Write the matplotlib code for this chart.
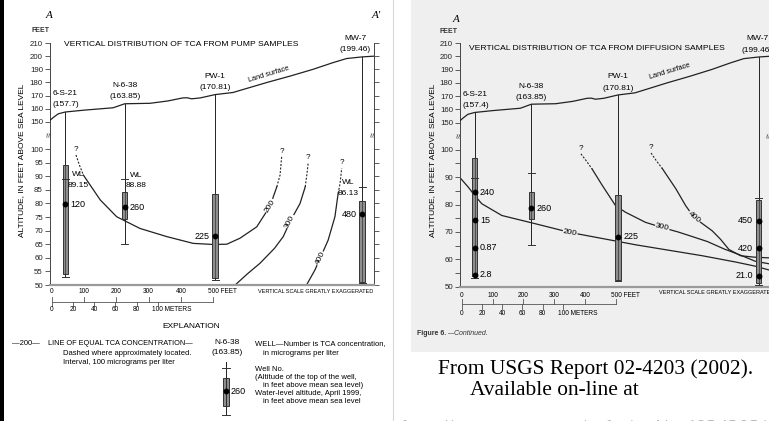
import numpy as np
import matplotlib.pyplot as plt
import matplotlib.transforms as mtransforms
from matplotlib.patches import Rectangle
from matplotlib.ticker import NullFormatter

plt.rcParams['font.family'] = ['Liberation Sans', 'DejaVu Sans']

W, H = 769, 421

# wells along section A-A' (distance from A in feet)
wells = ['6-S-21', 'N-6-38', 'PW-1', 'MW-7']
well_ft = [42, 226, 506, 961]
top_pump = [157.7, 163.85, 170.81, 199.46]
top_diff = [157.4, 163.85, 170.81, 199.46]

# land surface
land_ft = [-7, 5, 20, 42, 100, 190, 226, 304, 360, 406, 420, 433, 460, 506, 561, 666, 740, 809, 870, 913, 962, 998]
land_alt = [151, 153.5, 156.2, 157.6, 159, 160.8, 163.85, 164.2, 166, 168.3, 168.4, 167.6, 168.3, 170.81,
            172.4, 180, 185, 190, 195, 198.2, 199.46, 200]

# pump samples
pump_box_top = [94, 84.1, 83.3, 81]
pump_box_bot = [54, 74.2, 52.7, 51.2]
pump_bottom = [53, 65, 51.8, 50.6]
pump_wl = [89.15, 88.88, None, 86.13]
pump_sample_alt = [[79.7], [78.5], [68], [76]]
pump_tca = [['120'], ['260'], ['225'], ['480']]

# diffusion samples
diff_box_top = [96.9, 84.6, 83.5, 81.5]
diff_box_bot = [54, 74.6, 52.5, 51.3]
diff_bottom = [53.3, 65.3, 52, 50.8]
diff_wl = [89.6, 91.5, None, 82.4]
diff_sample_alt = [[84.4, 74.3, 64.2, 54.3], [78.7], [68.3], [74, 64, 54]]
diff_tca = [['240', '15', '0.87', '2.8'], ['260'], ['225'], ['450', '420', '21.0']]

# lines of equal TCA concentration (pump)
pump_200_ft = [75, 86, 98, 150, 201, 273, 356, 438, 500, 542, 583, 635, 676, 697, 707, 712]
pump_200_alt = [97.8, 94, 90.4, 81.3, 75.1, 70.8, 67.8, 65.3, 64.9, 65.0, 67.2, 71.4, 79.0, 86.1, 90.4, 97.2]
pump_300_ft = [568, 605, 645, 690, 717, 738, 769, 785, 790, 794]
pump_300_alt = [50, 54, 58, 63.5, 67.8, 73.3, 80, 86.1, 90.5, 94.7]
pump_400_ft = [789, 815, 831, 856, 877, 887, 893, 898]
pump_400_alt = [50, 55.5, 59.8, 66.5, 75.1, 83.7, 87.4, 92.9]

# lines of equal TCA concentration (diffusion)
diff_200_ft = [-7, 21, 43, 65, 130, 238, 351, 455, 507, 563, 671, 779, 887, 950, 998]
diff_200_alt = [90, 86.4, 83.2, 80.3, 76, 73, 69.8, 67.6, 66.5, 65.3, 63.3, 61.3, 59, 57.5, 56]
diff_300_ft = [386, 403, 422, 455, 498, 530, 595, 649, 700, 741, 795, 849, 903, 950, 998]
diff_300_alt = [98.5, 96, 93, 87, 79.6, 77.2, 73.5, 71.6, 70, 68.5, 66.5, 63.8, 61.5, 59.3, 58.3]
diff_400_ft = [613, 630, 649, 693, 725, 752, 777, 811, 838, 865, 903, 946, 998]
diff_400_alt = [98.8, 96, 93.2, 85.8, 79.6, 75.3, 73.2, 70.4, 67.3, 63.6, 61.3, 60.8, 60.5]

feet_ticks = [0, 100, 200, 300, 400, 500]
meter_ticks = [0, 20, 40, 60, 80, 100]

# broken vertical scale: 50-100 ft stretched, 150-210 ft compressed
alt_knots = [-1000, 50, 100, 150, 210, 1000]
px_knots = [-2856, 0, 136, 163, 242, 242 + 790 * 1.317]


def fwd(a):
    return np.interp(a, alt_knots, px_knots)


def inv(p):
    return np.interp(p, px_knots, alt_knots)


fig = plt.figure(figsize=(W / 100, H / 100), dpi=100)
ov = fig.add_axes([0, 0, 1, 1], zorder=0)
ov.set_xlim(0, W)
ov.set_ylim(H, 0)
ov.axis('off')

GRAY_BG = '#efefef'
ov.add_patch(Rectangle((411, 0), 358, 352, fc=GRAY_BG, ec='none'))
ov.add_patch(Rectangle((0, 0), 3.5, H, fc='black', ec='none'))
ov.plot([392.5, 392.5], [0, H], color='#d8d8d8', lw=0.8)


def setup_panel(ax, labelled, minor):
    ax.set_facecolor('none')
    ax.set_yscale('function', functions=(fwd, inv))
    ax.set_xlim(-7, 998)
    ax.set_ylim(50, 210)
    ax.set_xticks([])
    ax.set_yticks(labelled)
    ax.set_yticklabels([str(v) for v in labelled])
    ax.set_yticks(minor, minor=True)
    ax.yaxis.set_minor_formatter(NullFormatter())
    ax.spines['top'].set_visible(False)
    for s in ['left', 'right']:
        ax.spines[s].set_color('#444')
        ax.spines[s].set_linewidth(0.7)
    ax.spines['bottom'].set_color('#9a9a9a')
    ax.spines['bottom'].set_linewidth(1.6)
    ax.tick_params(axis='y', which='both', direction='out', length=3.5, width=0.6,
                   color='#444', labelcolor='#222', labelsize=5.7, pad=1.2, right=True)
    tr = mtransforms.blended_transform_factory(ax.transAxes, ax.transData)
    for xa in [0, 1]:
        ax.text(xa, 127, '≈', transform=tr, rotation=90, ha='center', va='center',
                fontsize=6.5, color='#333', clip_on=False)


def draw_contour(ax, xs, ys, lead, tail):
    n = len(xs)
    a = max(lead - 1, 0)
    b = n - tail + 1 if tail else n
    ax.plot(xs[a:b], ys[a:b], color='#222', lw=0.9, zorder=2)
    if lead:
        ax.plot(xs[:lead], ys[:lead], color='#222', lw=0.8, ls=(0, (1.8, 1.4)), zorder=2)
        ax.annotate('?', (xs[0], ys[0]), xytext=(0, 1.5), textcoords='offset points',
                    ha='center', va='bottom', fontsize=5.8)
    if tail:
        ax.plot(xs[n - tail:], ys[n - tail:], color='#222', lw=0.8, ls=(0, (1.8, 1.4)), zorder=2)
        ax.annotate('?', (xs[-1], ys[-1]), xytext=(0, 1.5), textcoords='offset points',
                    ha='center', va='bottom', fontsize=5.8)


def draw_well(ax, i, top, bottom, box_top, box_bot, wl, sample_alt, tca, side):
    x = well_ft[i]
    ax.plot([x, x], [top, bottom], color='#222', lw=0.7, zorder=3)
    ax.add_patch(Rectangle((x - 8.5, box_bot), 17, box_top - box_bot, fc='#8e8e8e',
                           ec='#333', lw=0.7, zorder=4))
    ax.plot([x, x], [box_bot, box_top], color='#333', lw=0.5, zorder=5)
    for c in [bottom, wl]:
        if c is not None:
            ax.plot([x - 11, x + 11], [c, c], color='#333', lw=0.7, zorder=5)
    for a, t in zip(sample_alt, tca):
        ax.plot(x, a, 'o', ms=3.2, color='black', zorder=6)
        ax.annotate(t, (x, a), xytext=(side * 3.8, 0), textcoords='offset points',
                    ha='left' if side > 0 else 'right', va='center', fontsize=6.5, zorder=7)


def well_names(ax, tops, dx_list, ha_list):
    for i, name in enumerate(wells):
        ax.annotate(name, (well_ft[i], tops[i]), xytext=(dx_list[i], 13),
                    textcoords='offset points', ha=ha_list[i], va='center', fontsize=6)
        ax.annotate('(%s)' % tops[i], (well_ft[i], tops[i]), xytext=(dx_list[i], 5),
                    textcoords='offset points', ha=ha_list[i], va='center', fontsize=6)


def scale_bar(ax, h_px, lab_dy, bar_dy, mlab_dy):
    tr = mtransforms.blended_transform_factory(ax.transData, ax.transAxes)

    def f(d):
        return -d / h_px
    kw = dict(transform=tr, clip_on=False, color='#555', lw=0.6)
    ax.plot([0, 500], [f(bar_dy), f(bar_dy)], **kw)
    for v in feet_ticks:
        ax.plot([v, v], [f(bar_dy), f(bar_dy - 5)], **kw)
    for m in meter_ticks:
        ax.plot([m / 0.3048] * 2, [f(bar_dy), f(bar_dy + 4.5)], **kw)
    for v in feet_ticks[:-1]:
        ax.text(v, f(lab_dy), str(v), transform=tr, ha='center', va='center', fontsize=4.7)
    ax.text(500 - 17, f(lab_dy), '500 FEET', transform=tr, ha='left', va='center', fontsize=4.7)
    for m in meter_ticks[:-1]:
        ax.text(m / 0.3048, f(mlab_dy), str(m), transform=tr, ha='center', va='center', fontsize=4.7)
    ax.text(100 / 0.3048 - 17, f(mlab_dy), '100 METERS', transform=tr, ha='left',
            va='center', fontsize=4.7)


# ---------------- left panel: pump samples ----------------
ax1 = fig.add_axes([49.5 / W, 1 - 285 / H, 324.5 / W, 242 / H], zorder=1)
setup_panel(ax1, [50, 55, 60, 65, 70, 75, 80, 85, 90, 95, 100, 150, 160, 170, 180, 190, 200, 210], [])
ax1.plot(land_ft, land_alt, color='#222', lw=0.9, zorder=3)
ax1.text(673, 186, 'Land surface', rotation=17, ha='center', va='center', fontsize=5.3)

for xs, ys, lead, tail in [(pump_200_ft, pump_200_alt, 3, 3), (pump_300_ft, pump_300_alt, 0, 3),
                           (pump_400_ft, pump_400_alt, 0, 3)]:
    draw_contour(ax1, xs, ys, lead, tail)
for x, y, r, t in [(676, 79, 58, '200'), (738, 73.3, 62, '300'), (831, 59.8, 64, '400')]:
    ax1.text(x, y, t, rotation=r, rotation_mode='anchor', ha='center', va='center', fontsize=6,
             bbox=dict(boxstyle='square,pad=0.05', fc='white', ec='none'), zorder=2.5)

pump_side = [1, 1, -1, -1]
for i in range(4):
    draw_well(ax1, i, top_pump[i], pump_bottom[i], pump_box_top[i], pump_box_bot[i], pump_wl[i],
              pump_sample_alt[i], pump_tca[i], pump_side[i])
pump_wl_dx = [9.5, 8.5, 0, -10]
for i in range(4):
    if pump_wl[i] is not None:
        ax1.annotate('WL', (well_ft[i], pump_wl[i]), xytext=(pump_wl_dx[i], 3), textcoords='offset points',
                     ha='center', va='center', fontsize=6, zorder=7)
        ax1.annotate('%.2f' % pump_wl[i], (well_ft[i], pump_wl[i]), xytext=(pump_wl_dx[i], -4.8),
                     textcoords='offset points', ha='center', va='center', fontsize=6, zorder=7)
well_names(ax1, top_pump, [-9, 0, 0, -5], ['left', 'center', 'center', 'center'])
scale_bar(ax1, 242, 6.7, 16.7, 24.3)

# ---------------- right panel: diffusion samples ----------------
ax2 = fig.add_axes([459.5 / W, 1 - 286.7 / H, 310.5 / W, 243.7 / H], zorder=1)
setup_panel(ax2, [50, 60, 70, 80, 90, 100, 150, 160, 170, 180, 190, 200, 210], [55, 65, 75, 85, 95])
ax2.plot(land_ft, land_alt, color='#222', lw=0.9, zorder=3)
ax2.text(674, 188.5, 'Land surface', rotation=17, ha='center', va='center', fontsize=5.3)

for xs, ys, lead, tail in [(diff_200_ft, diff_200_alt, 0, 0), (diff_300_ft, diff_300_alt, 3, 0),
                           (diff_400_ft, diff_400_alt, 3, 0)]:
    draw_contour(ax2, xs, ys, lead, tail)
for x, y, r, t in [(351, 69.8, -10, '200'), (649, 71.6, -13, '300'), (752, 75.3, -40, '400')]:
    ax2.text(x, y, t, rotation=r, rotation_mode='anchor', ha='center', va='center', fontsize=6,
             bbox=dict(boxstyle='square,pad=0.05', fc=GRAY_BG, ec='none'), zorder=2.5)

diff_side = [1, 1, 1, -1]
for i in range(4):
    draw_well(ax2, i, top_diff[i], diff_bottom[i], diff_box_top[i], diff_box_bot[i], diff_wl[i],
              diff_sample_alt[i], diff_tca[i], diff_side[i])
well_names(ax2, top_diff, [-9, 0, 0, -1], ['left', 'center', 'center', 'center'])
scale_bar(ax2, 243.7, 9, 17.3, 26.6)

# ---------------- page texts ----------------
serif = ['Liberation Serif', 'DejaVu Serif']
ov.text(49, 15, 'A', fontsize=8, family=serif, style='italic', ha='center', va='center')
ov.text(376, 15, "A'", fontsize=8, family=serif, style='italic', ha='center', va='center')
ov.text(456, 20, 'A', fontsize=8, family=serif, style='italic', ha='center', va='center')
ov.text(40, 30, 'FEET', fontsize=5, ha='center', va='center', weight='bold', color='#333')
ov.text(448, 31.7, 'FEET', fontsize=5, ha='center', va='center', weight='bold', color='#333')
ov.text(181.5, 44.3, 'VERTICAL DISTRIBUTION OF TCA FROM PUMP SAMPLES', fontsize=6.1,
        ha='center', va='center')
ov.text(597, 49, 'VERTICAL DISTRIBUTION OF TCA FROM DIFFUSION SAMPLES', fontsize=6.1,
        ha='center', va='center')
ov.text(22, 160, 'ALTITUDE, IN FEET ABOVE SEA LEVEL', fontsize=6, rotation=90, ha='center', va='center')
ov.text(433, 160, 'ALTITUDE, IN FEET ABOVE SEA LEVEL', fontsize=6, rotation=90, ha='center', va='center')
ov.text(258, 291.7, 'VERTICAL SCALE GREATLY EXAGGERATED', fontsize=4.0, ha='left', va='center')
ov.text(659, 292.7, 'VERTICAL SCALE GREATLY EXAGGERATED', fontsize=4.0, ha='left', va='center')

# explanation
ov.text(191, 326, 'EXPLANATION', fontsize=6, ha='center', va='center')
ov.text(12, 343.3, '\u2014200\u2014', fontsize=5.5, ha='left', va='center')
ov.text(48, 343.3, 'LINE OF EQUAL TCA CONCENTRATION\u2014', fontsize=5.3, ha='left', va='center')
ov.text(63, 353.3, 'Dashed where approximately located.', fontsize=5.5, ha='left', va='center')
ov.text(63, 362.7, 'Interval, 100 micrograms per liter', fontsize=5.5, ha='left', va='center')
ov.text(226.7, 342.7, 'N-6-38', fontsize=6, ha='center', va='center')
ov.text(226.7, 352.7, '(163.85)', fontsize=6, ha='center', va='center')
ov.plot([225.7, 225.7], [361.7, 415], color='#222', lw=0.7)
ov.add_patch(Rectangle((223, 377.7), 5.5, 28.3, fc='#8e8e8e', ec='#333', lw=0.7))
ov.plot([225.7, 225.7], [377.7, 406], color='#333', lw=0.5)
for cy in [368.3, 415]:
    ov.plot([222, 229.5], [cy, cy], color='#333', lw=0.7)
ov.plot(225.7, 391, 'o', ms=3.2, color='black')
ov.text(230.5, 391, '260', fontsize=6.5, ha='left', va='center')
for x, y, s in [(255, 343.3, 'WELL\u2014Number is TCA concentration,'),
                (263.3, 353.3, 'in micrograms per liter'),
                (255, 369.3, 'Well No.'),
                (255, 377.7, '(Altitude of the top of the well,'),
                (263.3, 385.7, 'in feet above mean sea level)'),
                (255, 393.3, 'Water-level altitude, April 1999,'),
                (263.3, 401.7, 'in feet above mean sea level')]:
    ov.text(x, y, s, fontsize=5.5, ha='left', va='center')

ov.text(416.7, 333.3, 'Figure 6.', fontsize=5, weight='bold', ha='left', va='center', color='#333')
ov.text(446.7, 333.3, '\u2014Continued.', fontsize=5, style='italic', ha='left', va='center', color='#333')

ov.text(438, 374, 'From USGS Report 02-4203 (2002).', fontsize=15.4, family=serif, ha='left', va='baseline')
ov.text(470, 395, 'Available on-line at', fontsize=15.4, family=serif, ha='left', va='baseline')
ov.text(403, 434, 'http://water.usgs.gov/pubs/wri/wri024203/', fontsize=15.4, family=serif,
        ha='left', va='baseline', color='#b0b0b0')

fig.savefig('out.png', dpi=100)
